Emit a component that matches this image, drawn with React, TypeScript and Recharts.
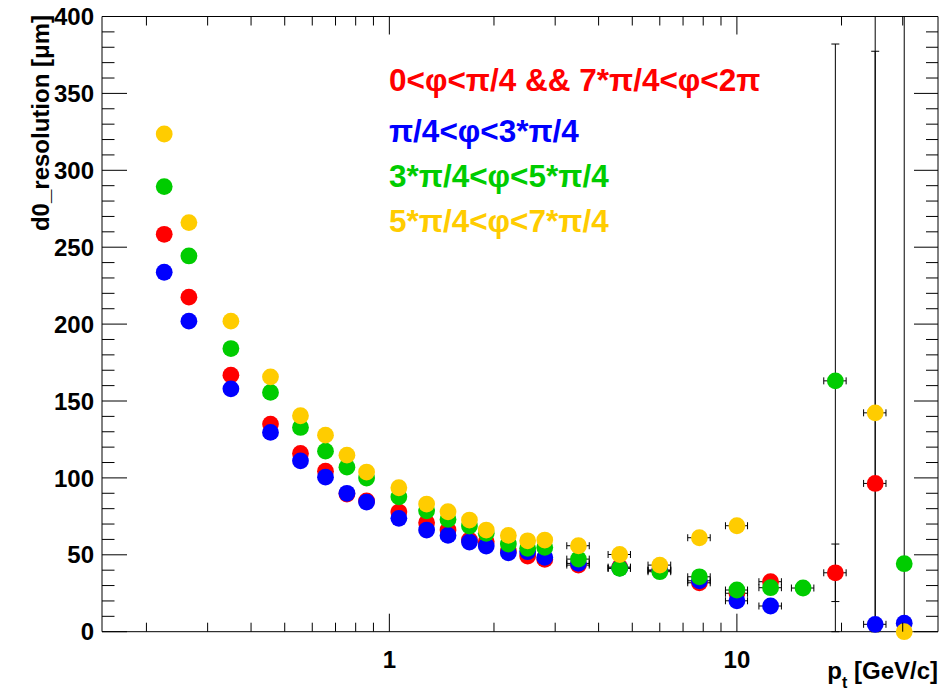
import React from 'react'
import { ScatterChart, Scatter, XAxis, YAxis, ErrorBar, Legend } from 'recharts'

// pt bin centres [GeV/c] and their half widths (only drawn for the high pt bins)
const ptBins = [0.225, 0.265, 0.35, 0.455, 0.555, 0.655, 0.755, 0.86, 1.065, 1.28, 1.475, 1.7, 1.9, 2.2, 2.5, 2.8, 3.5, 4.6, 6.0, 7.8, 10, 12.5, 15.5, 19.2, 25, 30.3]
const ptBinErr = [0, 0, 0, 0, 0, 0, 0, 0, 0, 0, 0, 0, 0, 0, 0, 0, 0.26, 0.34, 0.45, 0.58, 0.73, 0.93, 1.15, 1.42, 1.85, 0]

// d0 resolution [um] per phi sector
const d0Red = [258.4, 217.5, 166.8, 135, 115.9, 104.4, 89.5, 85, 77.8, 70.8, 66.1, 59.6, 58.5, 52.5, 49.2, 47, 43.3, 42, 40, 31.8, 25, 32.5, null, 38.3, 96.4, null]
const d0Blue = [233.7, 201.9, 157.9, 129.6, 111.1, 100.5, 90, 84.3, 73.7, 66.1, 62.6, 58.3, 55.7, 51.3, 52, 48.3, 44.4, 41.3, 40, 33.1, 20.1, 16.7, null, null, 4.8, 5.5]
const d0Green = [289.4, 244.3, 184.1, 155.6, 132.8, 117.4, 107, 99.9, 87.7, 78.6, 73, 68.7, 64, 57, 54.2, 54.8, 47.2, 41.2, 39, 35.7, 27.1, 28.6, 28.4, 163.1, null, 44.2]
const d0Yellow = [323.6, 266, 201.9, 165.7, 140.4, 127.8, 114.8, 103.8, 93.6, 83, 78, 72.6, 66.1, 62.6, 59.1, 59.6, 55.9, 50.2, 43.3, 61.1, 68.9, null, null, null, 142.3, 0]

// vertical errors (most are hidden under the markers)
const d0ErrRed = [0, 0, 0, 0, 0, 0, 0, 0, 0, 0, 0, 0, 0, 0, 0, 0, 0, 0, 0, 0, 0, 3.5, 0, 18.7, 281, 0]
const d0ErrBlue = [0, 0, 0, 0, 0, 0, 0, 0, 0, 0, 0, 0, 0, 0, 0, 0, 0, 0, 0, 0, 0, 0, 0, 0, 450, 0]
const d0ErrGreen = [0, 0, 0, 0, 0, 0, 0, 0, 0, 0, 0, 0, 0, 0, 0, 0, 0, 0, 0, 0, 0, 0, 0, 219, 0, 420]
const d0ErrYellow = [0, 0, 0, 0, 0, 0, 0, 0, 0, 0, 0, 0, 0, 0, 0, 0, 0, 0, 0, 0, 0, 0, 0, 0, 0, 0]

const xTicks = [0.2, 0.3, 0.4, 0.5, 0.6, 0.7, 0.8, 0.9, 1, 2, 3, 4, 5, 6, 7, 8, 9, 10, 20, 30]
const xMajor = [1, 10]
const yTicks = [0, 10, 20, 30, 40, 50, 60, 70, 80, 90, 100, 110, 120, 130, 140, 150, 160, 170, 180, 190, 200,
  210, 220, 230, 240, 250, 260, 270, 280, 290, 300, 310, 320, 330, 340, 350, 360, 370, 380, 390, 400]
const yDomain = [0, 400]

const legendLabels = ['0<φ<π/4 && 7*π/4<φ<2π', 'π/4<φ<3*π/4', '3*π/4<φ<5*π/4', '5*π/4<φ<7*π/4']
const legendRows = [80, 130.5, 175.5, 221]
const colors = ['#ff0000', '#0000ff', '#00cc00', '#ffcc00']

const FONT = '"Liberation Sans", Arial, Helvetica, sans-serif'

const allValues = [d0Red, d0Blue, d0Green, d0Yellow]
const allErrors = [d0ErrRed, d0ErrBlue, d0ErrGreen, d0ErrYellow]

const series = allValues.map((vals, s) =>
  ptBins
    .map((x, i) => ({ x, y: vals[i], ex: ptBinErr[i], ey: allErrors[s][i] }))
    .filter((d) => d.y !== null)
)
// the frame clips the error bars, so stop them at the axis range
const errPoints = series
  .flat()
  .filter((d) => d.ex > 0 || d.ey > 0)
  .map((d) => ({
    ...d,
    eyRange: [Math.min(d.ey, (d.y as number) - yDomain[0]), Math.min(d.ey, yDomain[1] - (d.y as number))],
  }))

const BottomTick = (props: any) => {
  const { x, y, payload } = props
  const major = xMajor.includes(payload.value)
  return (
    <g>
      <line x1={x} x2={x} y1={y} y2={y - (major ? 18 : 9)} stroke="#000" />
      {major && (
        <text x={x} y={y + 36.5} textAnchor="middle" fontSize={24} fontWeight="bold" fontFamily={FONT} fill="#000">
          {payload.value}
        </text>
      )}
    </g>
  )
}

const TopTick = (props: any) => {
  const { x, y, payload } = props
  const major = xMajor.includes(payload.value)
  return <line x1={x} x2={x} y1={y} y2={y + (major ? 18 : 9)} stroke="#000" />
}

const LeftTick = (props: any) => {
  const { x, y, payload } = props
  const major = payload.value % 50 === 0
  return (
    <g>
      <line x1={x} x2={x + (major ? 25 : 12.5)} y1={y} y2={y} stroke="#000" />
      {major && (
        <text x={x - 8} y={y} dy="0.36em" textAnchor="end" fontSize={24} fontWeight="bold" fontFamily={FONT} fill="#000">
          {payload.value}
        </text>
      )}
    </g>
  )
}

const RightTick = (props: any) => {
  const { x, y, payload } = props
  const major = payload.value % 50 === 0
  return <line x1={x} x2={x - (major ? 24 : 12)} y1={y} y2={y} stroke="#000" />
}

const XTitle = () => (
  <text x={938} y={679} textAnchor="end" fontSize={24} fontWeight="bold" fontFamily={FONT} fill="#000">
    p<tspan fontSize={16} dy={9}>t</tspan>
    <tspan dy={-9}>{' [GeV/c]'}</tspan>
  </text>
)

const YTitle = () => (
  <text transform="rotate(-90)" x={-15} y={49} textAnchor="end" fontSize={24} fontWeight="bold" fontFamily={FONT} fill="#000">
    d0_resolution [μm]
  </text>
)

const renderLegend = () => (
  <div style={{ position: 'relative', width: 943, height: 0 }}>
    {legendLabels.map((label, i) => (
      <div
        key={label}
        style={{
          position: 'absolute',
          left: 389,
          top: legendRows[i] - 16,
          lineHeight: '32px',
          fontSize: 31.5,
          fontWeight: 'bold',
          fontFamily: FONT,
          color: colors[i],
          whiteSpace: 'nowrap',
        }}
      >
        {label}
      </div>
    ))}
  </div>
)

const dot = (color: string) => (props: any) => <circle cx={props.cx} cy={props.cy} r={8.4} fill={color} />

export default function App() {
  return (
    <div style={{ position: 'absolute', left: 0, top: 0, width: 943, height: 691, background: '#fff' }}>
      <ScatterChart width={943} height={691} margin={{ top: 15.5, right: 4, bottom: 58.3, left: 101 }}>
        <XAxis
          xAxisId="main"
          dataKey="x"
          type="number"
          scale="log"
          domain={[0.149, 37.9]}
          ticks={xTicks}
          interval={0}
          height={1}
          tickSize={0}
          tickMargin={0}
          tickLine={false}
          axisLine={{ stroke: '#000' }}
          tick={BottomTick}
          label={XTitle}
        />
        <XAxis
          xAxisId="top"
          orientation="top"
          dataKey="x"
          type="number"
          scale="log"
          domain={[0.149, 37.9]}
          allowDataOverflow
          ticks={xTicks}
          interval={0}
          height={1}
          tickSize={0}
          tickMargin={0}
          tickLine={false}
          axisLine={{ stroke: '#000' }}
          tick={TopTick}
        />
        <YAxis
          yAxisId="main"
          dataKey="y"
          type="number"
          domain={yDomain}
          ticks={yTicks}
          interval={0}
          width={1}
          tickSize={0}
          tickMargin={0}
          tickLine={false}
          axisLine={{ stroke: '#000' }}
          tick={LeftTick}
          label={YTitle}
        />
        <YAxis
          yAxisId="right"
          orientation="right"
          dataKey="y"
          type="number"
          domain={yDomain}
          allowDataOverflow
          ticks={yTicks}
          interval={0}
          width={1}
          tickSize={0}
          tickMargin={0}
          tickLine={false}
          axisLine={{ stroke: '#000' }}
          tick={RightTick}
        />
        <Legend verticalAlign="middle" layout="horizontal" wrapperStyle={{ left: 0, top: 0, width: 943, height: 0 }} content={renderLegend} />

        {/* error bars first, so the markers sit on top of them */}
        <Scatter data={errPoints} xAxisId="top" yAxisId="right" shape={() => <g />} isAnimationActive={false} legendType="none">
          <ErrorBar dataKey="eyRange" direction="y" width={4} stroke="#000" strokeWidth={1} />
          <ErrorBar dataKey="ex" direction="x" width={3.5} stroke="#000" strokeWidth={1} />
        </Scatter>
        {series.map((data, s) => (
          <Scatter
            key={s}
            name={legendLabels[s]}
            data={data}
            xAxisId="main"
            yAxisId="main"
            fill={colors[s]}
            shape={dot(colors[s])}
            isAnimationActive={false}
          />
        ))}
      </ScatterChart>
    </div>
  )
}
